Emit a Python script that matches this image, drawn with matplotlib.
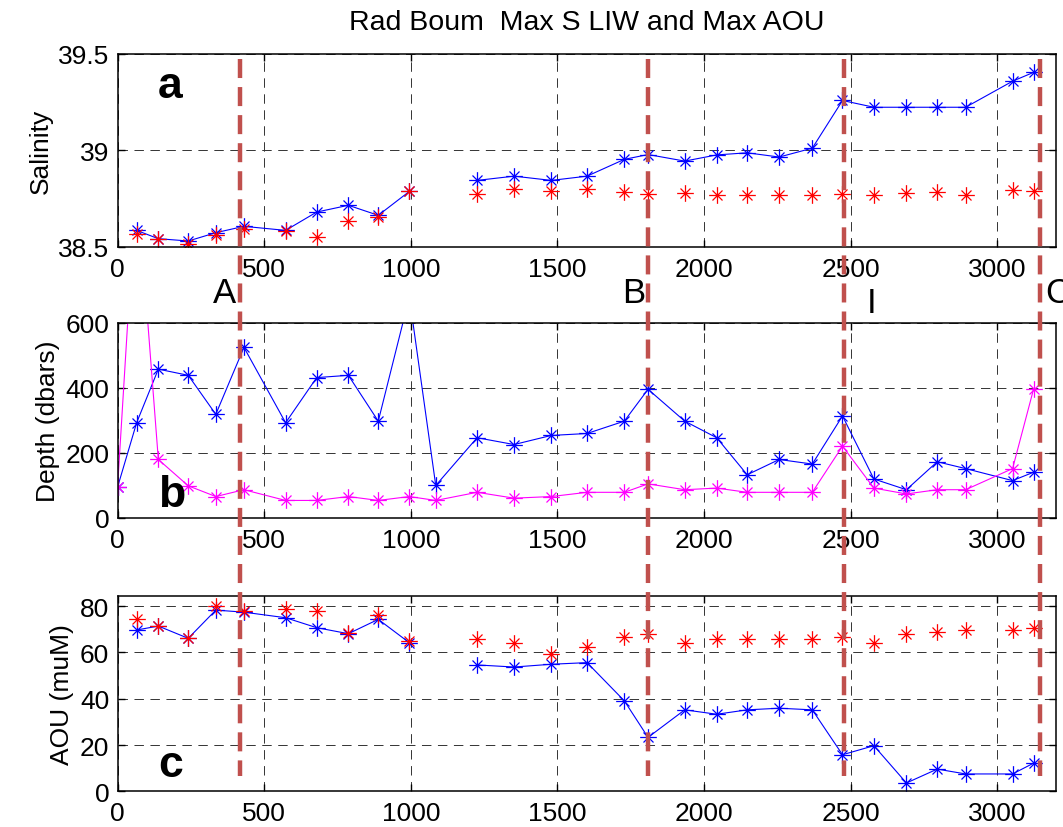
import numpy as np
import matplotlib
matplotlib.use('Agg')
import matplotlib.pyplot as plt
from matplotlib.path import Path
from matplotlib.lines import Line2D
from matplotlib.transforms import blended_transform_factory

plt.rcParams['font.family'] = ['Liberation Sans', 'DejaVu Sans']
plt.rcParams['lines.scale_dashes'] = False

nan = np.nan

# distance along the section (km), one entry per station
dist = [0, 65, 139, 241, 335, 431, 573, 679, 787, 889, 995, 1085, 1226, 1352, 1479,
        1601, 1728, 1809, 1934, 2043, 2147, 2256, 2369, 2472, 2579, 2690, 2795, 2892, 3052, 3124]

# a: salinity at max S (blue) and at max AOU (red)
sal_maxs = [nan, 38.586, 38.543, 38.531, 38.574, 38.607, 38.586, 38.681, 38.716, 38.664, 38.788, nan,
            38.845, 38.867, 38.845, 38.867, 38.954, 38.979, 38.945, 38.977, 38.988, 38.966, 39.012,
            39.259, 39.224, 39.224, 39.224, 39.224, 39.359, 39.405]
sal_maxaou = [nan, 38.569, 38.543, 38.518, 38.564, 38.595, 38.581, 38.552, 38.633, 38.655, 38.788, nan,
              38.776, 38.798, 38.788, 38.798, 38.785, 38.776, 38.781, 38.767, 38.767, 38.767, 38.767,
              38.776, 38.767, 38.781, 38.785, 38.767, 38.793, 38.788]

# b: depth of max S (blue) and of max AOU (magenta)
dep_maxs = [95, 293, 458, 439, 319, 525, 293, 432, 439, 298, 680, 100, 247, 226, 254, 260, 298, 396,
            298, 247, 133, 180, 166, 314, 120, 87, 173, 152, 115, 141]
dep_maxaou = [95, 1050, 180, 99, 66, 87, 54, 54, 66, 54, 66, 54, 79, 61, 66, 79, 79, 105, 87, 92,
              79, 79, 79, 221, 92, 74, 87, 87, 152, 398]

# c: AOU at max S (blue) and max AOU (red)
aou_maxs = [nan, 69.7, 71.4, 66.1, 78.3, 77.4, 75.0, 70.7, 68.1, 74.3, 64.2, nan, 54.6, 53.7, 54.9,
            55.6, 39.1, 23.3, 35.2, 33.3, 35.2, 35.9, 35.2, 15.8, 19.7, 3.6, 9.6, 7.5, 7.5, 12.2]
aou_max = [nan, 74.3, 71.4, 66.4, 80.0, 77.8, 78.9, 78.1, 68.5, 76.0, 64.9, nan, 65.9, 64.2, 59.5,
           62.3, 66.8, 67.8, 63.9, 65.9, 65.9, 65.9, 65.9, 66.8, 64.2, 67.8, 68.8, 69.7, 69.7, 70.7]

# section boundaries and their names
section_x = [418, 1809, 2478, 3145]
section_names = ['A', 'B', 'I', 'C']
name_x = [325, 1719, 2554, 3162]
name_y = [0.634, 0.634, 0.622, 0.634]

xticks = [0, 500, 1000, 1500, 2000, 2500, 3000]
sal_ticks = [38.5, 39, 39.5]
sal_labels = ['38.5', '39', '39.5']
dep_ticks = [0, 200, 400, 600]
aou_ticks = [0, 20, 40, 60, 80]

# matlab-like asterisk marker
ast = Path([(-1, 0), (1, 0), (0, -1), (0, 1), (-.6, -.6), (.6, .6), (-.6, .6), (.6, -.6)],
           [Path.MOVETO, Path.LINETO] * 4)
mk = dict(marker=ast, ms=12, mew=0.9, mfc='none')

fig = plt.figure(figsize=(10.63, 8.28), dpi=100)
axa = fig.add_axes([0.1106, 0.7005, 0.8828, 0.2331])
axb = fig.add_axes([0.1106, 0.3732, 0.8828, 0.2355])
axc = fig.add_axes([0.1106, 0.0431, 0.8828, 0.2362])

axa.plot(dist, sal_maxs, '-', color='blue', lw=0.8, mec='blue', **mk)
axa.plot(dist, sal_maxaou, 'none', mec='red', **mk)
axb.plot(dist, dep_maxs, '-', color='blue', lw=0.8, mec='blue', **mk)
axb.plot(dist, dep_maxaou, '-', color='magenta', lw=0.8, mec='magenta', **mk)
axc.plot(dist, aou_maxs, '-', color='blue', lw=0.8, mec='blue', **mk)
axc.plot(dist, aou_max, 'none', mec='red', **mk)

axa.set_ylim(38.5, 39.5)
axa.set_yticks(sal_ticks, sal_labels)
axb.set_ylim(0, 600)
axb.set_yticks(dep_ticks)
axc.set_ylim(0, 84.5)
axc.set_yticks(aou_ticks)

for ax in (axa, axb, axc):
    ax.set_xlim(0, 3200)
    ax.set_xticks(xticks)
    ax.grid(True, color='0.2', lw=0.7, linestyle=(0, (6.8, 4.7)))
    ax.set_axisbelow(True)
    ax.tick_params(direction='in', length=5, width=1, labelsize=19, top=True, right=True)
    ax.tick_params(axis='x', pad=7)
    ax.tick_params(axis='y', pad=6)
    for s in ax.spines.values():
        s.set_linewidth(1.1)

axa.set_ylabel('Salinity', fontsize=19)
axb.set_ylabel('Depth (dbars)', fontsize=19)
axc.set_ylabel('AOU (muM)', fontsize=19)
axa.set_title('Rad Boum  Max S LIW and Max AOU', fontsize=20.5, pad=18)

for ax, letter, yy in ((axa, 'a', 0.776), (axb, 'b', 0.063), (axc, 'c', 0.080)):
    ax.text(0.043, yy, letter, transform=ax.transAxes, fontsize=32, fontweight='bold', va='baseline')

# section boundaries run through all three panels
tr = blended_transform_factory(axc.transData, fig.transFigure)
for xs in section_x:
    fig.add_artist(Line2D([xs, xs], [0.9275, 0.0612], transform=tr, color='#c0504d',
                          lw=3.2, linestyle=(0, (13.7, 6.5)), zorder=10))
for nm, xn, yn in zip(section_names, name_x, name_y):
    fig.text(xn, yn, nm, transform=tr, fontsize=25, va='baseline', ha='left')

fig.savefig('out.png', dpi=100)
